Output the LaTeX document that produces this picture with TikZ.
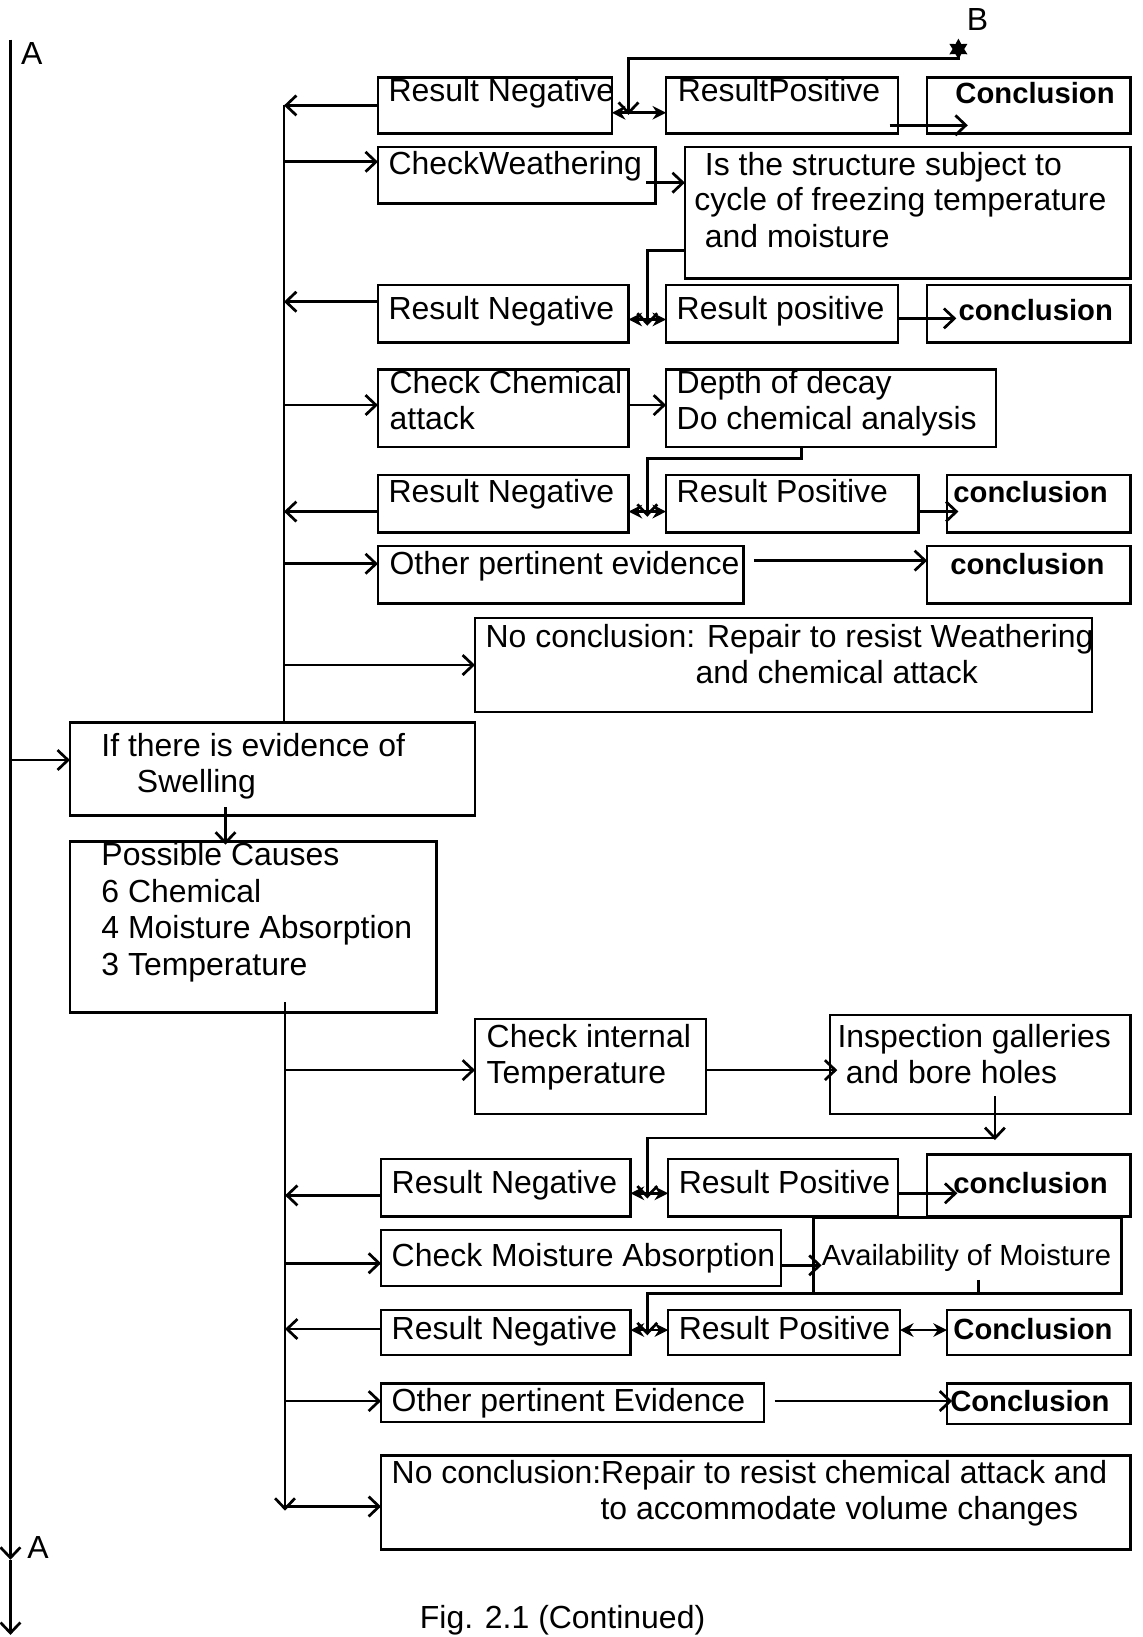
\documentclass[tikz,border=0pt]{standalone}
\usepackage{fontspec}
\setmainfont{Liberation Sans}
\usetikzlibrary{arrows.meta,shapes.geometric}
\tikzset{
  box/.style={draw, line width=2.4pt, anchor=north west, inner sep=0pt, outer sep=0pt},
  txt/.style={anchor=base west, inner sep=0pt, font=\fontsize{30.6}{35}\selectfont},
  btxt/.style={anchor=base west, inner sep=0pt, font=\fontsize{28}{32}\selectfont\bfseries},
  stxt/.style={anchor=base west, inner sep=0pt, font=\fontsize{27.9}{32}\selectfont},
  con/.style={line width=2.6pt},
  arr/.style={con, -{Straight Barb[length=10pt,width=19pt,line width=2.6pt]}},
  jarr/.style={con, {Stealth[length=13pt,width=13pt]}-{Stealth[length=13pt,width=13pt]}},
}
\newcommand\mkbox[5]{\node[box, minimum width={(#4-#2)*1pt}, minimum height={(#5-#3)*1pt}] (#1) at (#2,#3) {};}
\begin{document}
\begin{tikzpicture}[x=1pt,y=-1pt]
\fill[white] (0,0) rectangle (1094,1568);
\useasboundingbox (0,0) rectangle (1094,1568);

% ---------- boxes ----------
\mkbox{rn1}{362}{74}{586}{128}
\mkbox{rp1}{638}{74}{860}{128}
\mkbox{c1}{888}{74}{1083}{128}
\mkbox{cw}{362}{141}{628}{195}
\mkbox{q1}{656}{141}{1083}{267}
\mkbox{rn2}{362}{273}{602}{328}
\mkbox{rp2}{638}{273}{860}{328}
\mkbox{c2}{888}{273}{1083}{328}
\mkbox{cc}{362}{354}{602}{428}
\mkbox{dd}{638}{354}{954}{428}
\mkbox{rn3}{362}{455}{602}{510}
\mkbox{rp3}{638}{455}{880}{510}
\mkbox{c3}{907}{455}{1083}{510}
\mkbox{op1}{362}{523}{712}{578}
\mkbox{c4}{888}{523}{1083}{578}
\mkbox{nc1}{455}{592}{1046}{682}
\mkbox{ev}{67}{692}{455}{781}
\mkbox{pc}{67}{806}{418}{970}
\mkbox{cit}{455}{976}{676}{1067}
\mkbox{ig}{795}{972}{1083}{1067}
\mkbox{rn4}{365}{1110}{604}{1165}
\mkbox{rp4}{640}{1110}{860}{1165}
\mkbox{c5}{888}{1106}{1083}{1165}
\mkbox{cma}{365}{1178}{748}{1232}
\mkbox{am}{779}{1166}{1074}{1239}
\mkbox{rn5}{365}{1255}{604}{1298}
\mkbox{rp5}{640}{1255}{862}{1298}
\mkbox{c6}{907}{1255}{1083}{1298}
\mkbox{op2}{365}{1325}{732}{1362}
\mkbox{c7}{907}{1325}{1083}{1364}
\mkbox{nc2}{365}{1394}{1083}{1484}

% ---------- texts ----------
\node[txt] (tA1) at (20,62) {A};
\node[txt] (tA2) at (26,1493) {A};
\node[txt] (tB) at (926,29) {B};
\node[txt] (trn1) at (372,97) {Result Negative};
\node[txt] (trp1) at (649,97) {ResultPositive};
\node[btxt] (tc1) at (915,99) {Conclusion};
\node[txt] (tcw) at (372,167) {CheckWeathering};
\node[txt] (tq1a) at (675,168) {Is the structure subject to};
\node[txt] (tq1b) at (665,202) {cycle of freezing temperature};
\node[txt] (tq1c) at (675,237) {and moisture};
\node[txt] (trn2) at (372,306) {Result Negative};
\node[txt] (trp2) at (648,306) {Result positive};
\node[btxt] (tc2) at (918,307) {conclusion};
\node[txt] (tcca) at (373,377) {Check Chemical};
\node[txt] (tccb) at (373,411) {attack};
\node[txt] (tdda) at (648,377) {Depth of decay};
\node[txt] (tddb) at (648,411) {Do chemical analysis};
\node[txt] (trn3) at (372,481) {Result Negative};
\node[txt] (trp3) at (648,481) {Result Positive};
\node[btxt] (tc3) at (913,481) {conclusion};
\node[txt] (top1) at (373,550) {Other pertinent evidence};
\node[btxt] (tc4) at (910,550) {conclusion};
\node[txt] (tnc1a) at (465,620) {No conclusion: Repair to resist Weathering};
\node[txt] (tnc1b) at (666,655) {and chemical attack};
\node[txt] (teva) at (97,725) {If there is evidence of};
\node[txt] (tevb) at (131,759) {Swelling};
\node[txt] (tpca) at (97,829) {Possible Causes};
\node[txt] (tpcb) at (97,864) {6 Chemical};
\node[txt] (tpcc) at (97,899) {4 Moisture Absorption};
\node[txt] (tpcd) at (97,934) {3 Temperature};
\node[txt] (tcita) at (466,1003) {Check internal};
\node[txt] (tcitb) at (466,1038) {Temperature};
\node[txt] (tiga) at (802,1003) {Inspection galleries};
\node[txt] (tigb) at (810,1038) {and bore holes};
\node[txt] (trn4) at (375,1143) {Result Negative};
\node[txt] (trp4) at (650,1143) {Result Positive};
\node[btxt] (tc5) at (913,1143) {conclusion};
\node[txt] (tcma) at (375,1213) {Check Moisture Absorption};
\node[stxt] (tam) at (787,1212) {Availability of Moisture};
\node[txt] (trn5) at (375,1283) {Result Negative};
\node[txt] (trp5) at (650,1283) {Result Positive};
\node[btxt] (tc6) at (913,1283) {Conclusion};
\node[txt] (top2) at (375,1352) {Other pertinent Evidence};
\node[btxt] (tc7) at (910,1352) {Conclusion};
\node[txt] (tnc2a) at (375,1421) {No conclusion:Repair to resist chemical attack and};
\node[txt] (tnc2b) at (575,1455) {to accommodate volume changes};
\node[txt] (tcap) at (402,1560) {Fig. 2.1 (Continued)};

% ---------- coordinates ----------
\coordinate (Atop) at (10,38);
\coordinate (Amid) at (10,1494);
\coordinate (Abot) at (10,1566);
\coordinate (ub) at (272,101);
\coordinate (lb) at (273,960);
\coordinate (lbe) at (273,1447);
\coordinate (j1) at (602,110);
\coordinate (j2) at (620,312);
\coordinate (j3) at (620,495);
\coordinate (j4) at (620,1148);
\coordinate (j5) at (620,1279);
\node[star, star points=6, star point ratio=1.8, fill, inner sep=0pt, minimum size=20pt] (Bstar) at (918,47) {};

\coordinate (pev) at ([yshift=8.5pt]ev.west);
\coordinate (pcw) at ([yshift=13pt]cw.west);
\coordinate (prn2) at ([yshift=11.5pt]rn2.west);
\coordinate (pcc) at ([yshift=3pt]cc.west);
\coordinate (prn3) at ([yshift=-7.5pt]rn3.west);
\coordinate (pop1) at ([yshift=10.5pt]op1.west);
\coordinate (pcit) at ([yshift=-3.5pt]cit.west);
\coordinate (prn4) at ([yshift=-7.5pt]rn4.west);
\coordinate (pcma) at ([yshift=-5pt]cma.west);
\coordinate (prn5) at ([yshift=3.5pt]rn5.west);
\coordinate (pop2) at ([yshift=1.5pt]op2.west);
\coordinate (pnc2) at ([yshift=-4pt]nc2.west);
\coordinate (pes) at ([xshift=-45pt,yshift=8pt]ev.south);
\coordinate (pcn) at (pes |- pc.north);

% ---------- main line ----------
\draw[arr] (Atop) -- (Amid);
\draw[arr] (Amid) -- (Abot);
\draw[arr] (pev -| Atop) -- (pev);

% ---------- upper branch ----------
\draw[con] (ub) -- (ub |- ev.north);
\draw[arr] (rn1.west) -- (rn1.west -| ub);
\draw[arr] (pcw -| ub) -- (pcw);
\draw[arr] (prn2) -- (prn2 -| ub);
\draw[arr] (pcc -| ub) -- (pcc);
\draw[arr] (prn3) -- (prn3 -| ub);
\draw[arr] (pop1 -| ub) -- (pop1);
\draw[arr] (nc1.west -| ub) -- (nc1.west);

% ---------- row connectors (upper) ----------
\draw[arr] (Bstar.center) -- ++(0,9) -| (j1);
\draw[jarr] ([yshift=-7pt]rn1.east) -- ([yshift=-7pt]rp1.west);
\draw[arr] ([xshift=-8pt,yshift=-19pt]rp1.east) -- ([xshift=39pt,yshift=-19pt]c1.west);
\draw[arr] ([xshift=-9pt,yshift=-7pt]cw.east) -- ([yshift=29pt]q1.west);
\draw[arr] ([yshift=-36pt]q1.west) -| (j2);
\draw[jarr] ([yshift=-5.5pt]rn2.east) -- ([yshift=-5.5pt]rp2.west);
\draw[arr] ([yshift=-4.5pt]rp2.east) -- ([xshift=28pt,yshift=-4.5pt]c2.west);
\draw[arr] ([yshift=3pt]cc.east) -- ([yshift=3pt]dd.west);
\draw[arr] ([xshift=-28pt]dd.south) -- ++(0,11) -| (j3);
\draw[jarr] ([yshift=-7.5pt]rn3.east) -- ([yshift=-7.5pt]rp3.west);
\draw[arr] ([yshift=-7.5pt]rp3.east) -- ([xshift=11pt,yshift=-7.5pt]c3.west);
\draw[arr] ([xshift=10pt,yshift=13.5pt]op1.east) -- ([yshift=13.5pt]c4.west);

% ---------- evidence to causes ----------
\draw[arr] (pes) -- ([yshift=-3pt]pcn);

% ---------- lower branch ----------
\draw[arr] (lb) -- (lbe);
\draw[arr] (pcit -| lb) -- (pcit);
\draw[arr] (prn4) -- (prn4 -| lb);
\draw[arr] (pcma -| lb) -- (pcma);
\draw[arr] (prn5) -- (prn5 -| lb);
\draw[arr] (pop2 -| lb) -- (pop2);
\draw[arr] (pnc2 -| lb) -- (pnc2);

% ---------- row connectors (lower) ----------
\draw[arr] ([yshift=-3.5pt]cit.east) -- ([xshift=7pt,yshift=-5.5pt]ig.west);
\draw[arr] ([xshift=14pt,yshift=17pt]ig.south) -- ([xshift=14pt,yshift=-25pt]ig.south);
\draw[arr] ([xshift=14pt,yshift=-23pt]ig.south) -| (j4);
\draw[jarr] ([yshift=-5.5pt]rn4.east) -- ([yshift=-5.5pt]rp4.west);
\draw[arr] ([yshift=-5.5pt]rp4.east) -- ([xshift=29pt,yshift=-7.5pt]c5.west);
\draw[arr] ([yshift=-7pt]cma.east) -- ([xshift=8pt,yshift=-9.5pt]am.west);
\draw[arr] ([xshift=10.5pt,yshift=13pt]am.south) -- ([xshift=10.5pt]am.south) -| (j5);
\draw[jarr] ([yshift=2.5pt]rn5.east) -- ([yshift=2.5pt]rp5.west);
\draw[jarr] ([yshift=2.5pt]rp5.east) -- ([yshift=2.5pt]c6.west);
\draw[arr] ([xshift=10pt,yshift=1.5pt]op2.east) -- ([xshift=5pt,yshift=2.5pt]c7.west);
\end{tikzpicture}
\end{document}
